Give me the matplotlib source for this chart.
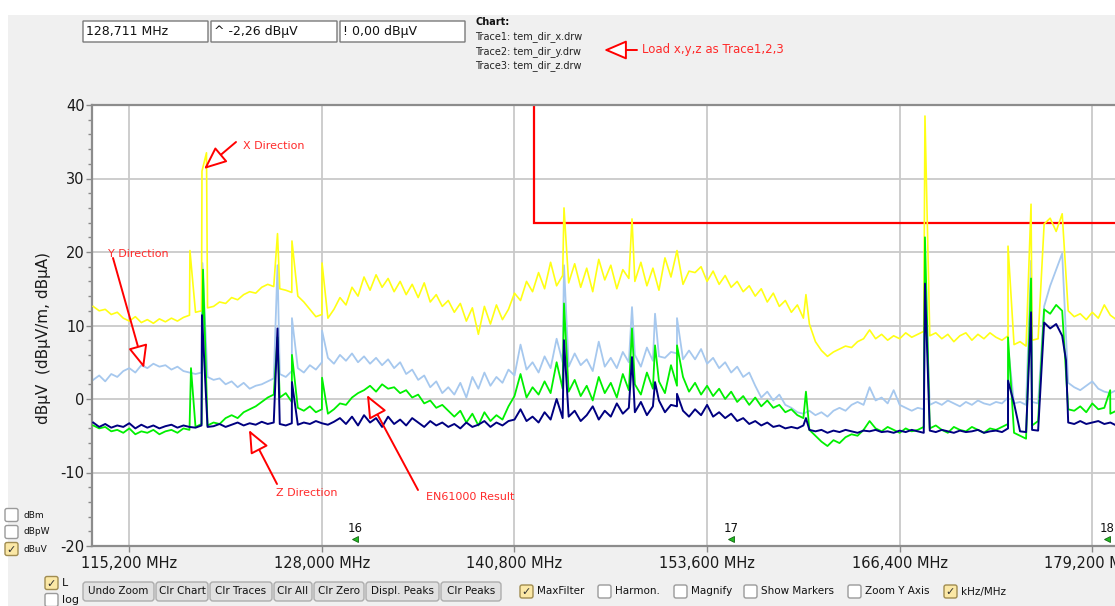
import numpy as np
import matplotlib
matplotlib.use("Agg")
import matplotlib.pyplot as plt
from matplotlib.patches import FancyBboxPatch, Rectangle, FancyArrowPatch
from matplotlib.transforms import IdentityTransform
from matplotlib.ticker import MultipleLocator, FixedLocator

# ---------------- data ----------------
F_START = 112800   # MHz (as labelled on the instrument axis)
F_STEP = 400

trace_x = [  # Trace1 tem_dir_x (yellow)
    12.6, 12.0, 12.2, 11.5, 11.8, 11.0, 10.6, 11.2, 10.4, 10.8,
    10.3, 10.9, 10.5, 11.0, 10.6, 11.1, 11.4, 11.8, 12.0, 12.4,
    12.6, 13.2, 13.0, 13.8, 13.5, 14.2, 14.6, 14.4, 15.2, 15.6,
    15.3, 15.0, 14.8, 14.5, 14.0, 13.2, 12.2, 11.2, 11.5, 11.0,
    12.2, 13.8, 12.8, 15.2, 14.0, 16.6, 14.8, 16.9, 15.2, 16.4,
    14.6, 16.0, 14.2, 15.6, 13.8, 15.8, 13.2, 14.2, 12.6, 13.4,
    11.8, 13.0, 10.6, 12.4, 8.8, 12.6, 10.2, 12.8, 10.8, 12.2,
    14.4, 13.4, 16.0, 14.6, 17.2, 15.0, 18.6, 15.4, 16.8, 15.8,
    18.4, 15.2, 17.8, 14.6, 19.0, 16.2, 18.2, 15.0, 17.6, 16.4,
    16.0, 18.6, 15.4, 17.8, 14.8, 19.2, 16.6, 20.2, 15.6, 17.4,
    17.2, 18.0, 16.0, 17.4, 15.6, 16.8, 15.2, 16.0, 14.6, 15.4,
    14.0, 15.0, 13.2, 14.4, 12.6, 13.4, 11.8, 12.8, 11.0, 10.2,
    7.8, 6.6, 5.8, 6.4, 6.8, 7.2, 7.0, 7.8, 8.2, 9.4,
    8.2, 8.8, 8.0, 8.6, 8.2, 9.0, 8.4, 8.8, 9.2, 8.6,
    9.0, 8.2, 8.8, 7.8, 8.6, 9.0, 8.0, 8.8, 8.2, 9.0,
    8.4, 8.0, 8.6, 7.4, 7.8, 7.2, 8.0, 8.2, 23.8, 24.6,
    22.8, 25.2, 12.0, 11.2, 11.6, 10.8, 11.8, 11.0, 12.8, 11.4,
    10.8,
]
trace_y = [  # Trace2 tem_dir_y (light blue)
    2.6, 3.2, 2.4, 3.4, 3.0, 3.8, 4.2, 3.6, 4.6, 4.2,
    4.8, 4.4, 4.6, 4.0, 4.4, 3.8, 3.6, 3.4, 3.6, 3.0,
    2.6, 2.8, 2.0, 2.4, 1.6, 2.2, 1.4, 1.8, 2.0, 2.4,
    2.8, 3.4, 3.0, 3.8, 4.2, 3.6, 4.6, 4.0, 5.0, 5.6,
    4.8, 6.0, 5.2, 6.2, 5.0, 5.8, 4.8, 5.6, 4.6, 5.4,
    4.2, 5.0, 3.4, 4.0, 2.6, 3.2, 1.6, 2.4, 0.8, 1.6,
    0.6, 2.2, 0.2, 3.0, 1.4, 3.6, 1.8, 3.0, 2.2, 4.0,
    3.2, 7.4, 4.0, 5.0, 3.6, 5.8, 4.2, 8.2, 5.0, 4.4,
    6.2, 4.6, 5.4, 3.8, 7.8, 4.4, 5.6, 4.2, 6.4, 5.0,
    6.0, 4.4, 7.0, 5.2, 5.8, 5.6, 6.4, 6.2, 5.4, 6.6,
    5.4, 6.8, 4.8, 5.6, 4.2, 5.0, 3.6, 4.4, 3.0, 3.6,
    1.8, 0.2, 1.0, -0.2, 0.6, -0.8, -1.2, -1.8, -2.0, -1.6,
    -2.2, -1.8, -2.4, -1.6, -1.2, -1.6, -0.8, -0.4, -0.8, 1.6,
    -0.2, 0.2, -0.6, 1.2, -0.8, -1.2, -1.6, -1.2, -1.4, -0.8,
    -0.4, -0.8, -0.2, -0.6, -1.0, -0.4, -0.8, -0.2, -0.6, -0.8,
    -0.4, -0.6, 0.2, -0.6, -0.4, -0.8, -0.4, -0.6, 12.6, 15.4,
    17.6, 19.8, 2.2, 1.6, 1.2, 1.8, 2.4, 1.4, 1.0, 0.8,
    1.2,
]
trace_z = [  # Trace3 tem_dir_z (green)
    -3.6, -4.0, -3.8, -4.4, -4.2, -4.6, -4.0, -4.8, -4.4, -4.6,
    -4.2, -4.8, -4.4, -4.2, -4.6, -4.0, -4.2, -3.8, -3.4, -3.6,
    -3.2, -3.4, -2.6, -2.2, -2.6, -1.8, -1.4, -1.0, -0.4, 0.2,
    0.6, 0.2, 0.8, -0.4, -1.2, -1.6, -1.0, -1.8, -1.4, -2.0,
    -1.4, -0.6, -0.8, 0.2, 0.8, 1.2, 1.8, 1.0, 2.0, 1.4,
    1.6, 0.8, 1.2, 0.2, 0.6, -0.6, -0.2, -1.2, -0.8, -1.6,
    -2.4, -1.6, -3.2, -2.0, -3.6, -1.8, -3.0, -2.2, -2.8, -1.0,
    0.4, 3.4, 0.2, 1.6, 0.6, 2.4, 0.8, 5.0, 1.4, 1.0,
    2.6, 0.4, 1.8, -0.2, 3.0, 0.8, 2.2, 0.2, 3.4, 1.2,
    2.0, 0.6, 3.6, 1.4, 2.4, 0.8, 4.6, 1.8, 3.0, 1.0,
    2.2, 0.6, 1.8, 0.4, 1.4, 0.0, 1.0, -0.4, 0.4, -0.8,
    0.2, -1.0, -0.2, -1.2, -0.8, -1.8, -1.4, -2.2, -2.6, -4.2,
    -5.0, -5.8, -6.4, -5.6, -6.0, -5.2, -4.8, -5.0, -4.2, -3.0,
    -4.0, -4.4, -3.8, -4.2, -4.6, -4.0, -4.4, -4.2, -3.8, -4.0,
    -3.6, -4.2, -4.6, -3.8, -4.2, -4.4, -3.8, -4.2, -4.6, -4.0,
    -4.2, -3.8, -3.4, -4.6, -5.0, -5.4, -3.6, -3.0, 12.2, 11.6,
    12.8, 12.0, -1.4, -1.6, -1.0, -1.8, -0.6, -1.4, -1.2, -2.0,
    -1.6,
]
trace_en = [  # EN61000 result (navy)
    -3.2, -3.8, -3.4, -3.9, -3.6, -3.8, -3.3, -4.0, -3.5, -3.9,
    -3.6, -4.0, -3.7, -3.5, -3.9, -3.6, -3.8, -3.9, -3.6, -3.8,
    -3.7, -3.4, -3.8, -3.5, -3.2, -3.6, -3.3, -3.5, -3.1, -3.4,
    -3.2, -3.4, -3.6, -3.3, -3.5, -3.2, -3.4, -3.0, -3.3, -3.5,
    -3.1, -2.6, -3.4, -2.4, -3.6, -2.2, -3.2, -2.6, -3.8, -2.4,
    -3.4, -2.8, -3.6, -2.6, -3.2, -3.8, -3.0, -3.6, -3.2, -3.8,
    -3.4, -4.0, -3.2, -3.8, -3.5, -3.0, -3.8, -3.2, -3.6, -3.0,
    -2.8, -1.4, -3.0, -2.4, -3.2, -1.8, -2.8, 0.0, -2.6, -2.4,
    -1.6, -3.0, -2.2, -1.0, -2.8, -1.6, -2.4, -0.6, -2.0, -1.2,
    -1.8, -0.4, -2.2, -1.0, -0.2, -1.8, -0.8, -1.0, -1.6, -2.4,
    -1.4, -2.2, -0.8, -2.4, -1.8, -2.6, -2.0, -3.0, -2.6, -3.4,
    -3.0, -3.6, -3.2, -3.8, -3.6, -4.0, -3.8, -4.0, -3.6, -4.2,
    -4.4, -4.2, -4.6, -4.3, -4.5, -4.2, -4.4, -4.6, -4.3, -4.4,
    -4.2, -4.5, -4.4, -4.6, -4.3, -4.5, -4.2, -4.4, -4.6, -4.3,
    -4.5, -4.2, -4.4, -4.6, -4.3, -4.5, -4.4, -4.2, -4.6, -4.4,
    -4.3, -4.5, -4.0, -0.6, -4.4, -4.5, -4.2, -4.3, 10.4, 9.6,
    10.2, 8.6, -3.2, -3.4, -3.0, -3.4, -3.2, -3.0, -3.4, -3.2,
    -3.6,
]

# narrow peaks (frequency, level) read separately
peaks_x_f = [119230, 120030, 120330, 125050, 126010, 128010, 144090, 148610, 160170, 168080, 173600, 175130]
peaks_x_v = [20.2, 31.0, 33.5, 22.5, 21.5, 18.5, 26.0, 24.5, 14.2, 38.5, 20.8, 26.5]
peaks_y_f = [120060, 125050, 126010, 128010, 144090, 148610, 150140, 151600, 168080, 173650, 175130]
peaks_y_v = [18.5, 18.2, 11.0, 9.3, 18.2, 12.5, 11.6, 11.0, 16.0, 6.2, 18.8]
peaks_z_f = [119300, 120100, 125050, 126010, 128010, 144090, 148610, 150140, 151600, 160170, 168080, 173600, 175130, 180390]
peaks_z_v = [4.2, 17.6, 8.4, 6.0, 2.9, 13.0, 9.6, 7.3, 7.3, 1.0, 22.0, 8.4, 16.4, 1.2]
peaks_en_f = [120030, 125050, 126010, 144090, 148610, 150140, 151600, 160170, 168080, 173600, 175130, 177450]
peaks_en_v = [11.4, 9.6, 2.3, 8.0, 5.7, 2.3, 0.7, -2.6, 15.7, 2.5, 11.8, 5.3]

limit_f = [142100, 142100, 181000]
limit_v = [41, 24, 24]

x_ticks = [115200, 128000, 140800, 153600, 166400, 179200]
y_ticks = [-20, -10, 0, 10, 20, 30, 40]
marker_f = [130200, 155200, 180200]
marker_lbl = ["16", "17", "18"]

# ---------------- figure ----------------
W, H = 1115, 606
fig = plt.figure(figsize=(W / 100, H / 100), dpi=100, facecolor="white")
PX = IdentityTransform()


def rect(x0, y0, x1, y1, fc, ec, r=0.0, lw=1.0, z=1):
    p = FancyBboxPatch((x0, H - y1), x1 - x0, y1 - y0,
                       boxstyle=f"round,pad=0,rounding_size={r}",
                       fc=fc, ec=ec, lw=lw, transform=PX, zorder=z)
    fig.add_artist(p)


def txt(x, y, s, **kw):
    kw.setdefault("va", "center")
    kw.setdefault("ha", "left")
    fig.text(x, H - y, s, transform=PX, **kw)


# grey window background
fig.add_artist(Rectangle((8, 0), W - 8, H - 15, fc="#f0f0f0", ec="none",
                         transform=PX, zorder=-10))

ax_left, ax_top, ax_bot = 92.3, 105.0, 546.0
ax = fig.add_axes([ax_left / W, (H - ax_bot) / H, (W - ax_left) / W,
                   (ax_bot - ax_top) / H])
ax.set_facecolor("white")


def merged(base, pf, pv):
    f = F_START + F_STEP * np.arange(len(base))
    ff = np.concatenate([f, np.asarray(pf, float)])
    vv = np.concatenate([np.asarray(base, float), np.asarray(pv, float)])
    o = np.argsort(ff, kind="stable")
    return ff[o], vv[o]


ax.plot(limit_f, limit_v, color="#ff0000", lw=1.6, zorder=1.5, solid_joinstyle="miter")
fy_, vy_ = merged(trace_y, peaks_y_f, peaks_y_v)
ax.plot(fy_, vy_, color="#a6c8ee", lw=1.3, zorder=2)
fx_, vx_ = merged(trace_x, peaks_x_f, peaks_x_v)
ax.plot(fx_, vx_, color="#ffff14", lw=1.2, zorder=3)
fz_, vz_ = merged(trace_z, peaks_z_f, peaks_z_v)
ax.plot(fz_, vz_, color="#00f000", lw=1.3, zorder=4)
fe_, ve_ = merged(trace_en, peaks_en_f, peaks_en_v)
ax.plot(fe_, ve_, color="#000080", lw=1.4, zorder=5)

ax.set_xlim(112741, 180710)
ax.set_ylim(-20, 40)
ax.set_xticks(x_ticks)
ax.set_xticklabels([f"{v:,} MHz" for v in x_ticks], fontsize=10.5, color="#1a1a1a")
ax.yaxis.set_major_locator(FixedLocator(y_ticks))
ax.yaxis.set_minor_locator(MultipleLocator(2))
ax.set_yticklabels([str(v) for v in y_ticks], fontsize=10.5, color="#1a1a1a")
ax.tick_params(axis="y", which="major", length=4.5, width=1, color="#8a8a8a", pad=1)
ax.tick_params(axis="y", which="minor", length=3, width=1, color="#8a8a8a")
ax.tick_params(axis="x", which="major", length=4, width=1, color="#8a8a8a", pad=3)
ax.grid(True, which="major", color="#c9c9c9", lw=1.3)
ax.set_axisbelow(True)
for s in ("left", "bottom", "top"):
    ax.spines[s].set_color("#8c8c8c")
    ax.spines[s].set_linewidth(1.6)
ax.spines["right"].set_visible(False)

# peak markers 16/17/18
for f, lbl in zip(marker_f, marker_lbl):
    ax.text(f, -17.6, lbl, ha="center", va="center", fontsize=8.5, color="#111111",
            clip_on=False, zorder=6)
    ax.plot([f], [-19.0], marker="<", ms=4.5, mfc="#22bb22", mec="#116611",
            mew=0.6, ls="none", clip_on=False, zorder=6)

# y label
txt(44, 338, "dBµV  (dBµV/m, dBµA)", rotation=90, ha="center", fontsize=11,
    color="#1a1a1a")

# ---------------- red annotations ----------------
RED = "#ff2a2a"
arrow_kw = dict(arrowstyle="-|>,head_length=1.4,head_width=0.6", fc="white",
                ec="#ff0000", lw=1.4, shrinkA=0, shrinkB=0, mutation_scale=10)


def red_arrow(x0, y0, x1, y1):
    fig.add_artist(FancyArrowPatch((x0, H - y0), (x1, H - y1), transform=PX,
                                   zorder=8, **arrow_kw))


red_arrow(236, 142, 204, 169)
txt(243, 146, "X Direction", fontsize=8, color=RED, zorder=8)
red_arrow(113, 258, 144, 368)
txt(108, 254, "Y Direction", fontsize=8, color=RED, zorder=8)
red_arrow(277, 484, 249, 430)
txt(276, 493, "Z Direction", fontsize=8, color=RED, zorder=8)
red_arrow(418, 490, 367, 395)
txt(426, 497, "EN61000 Result", fontsize=8, color=RED, zorder=8)
red_arrow(637, 50, 604, 50)
txt(642, 50, "Load x,y,z as Trace1,2,3", fontsize=8.5, color=RED, zorder=8)

# ---------------- header widgets ----------------
for (x0, x1), s in zip([(83, 208), (211, 337), (340, 465)],
                       ["128,711 MHz", "^ -2,26 dBµV", "! 0,00 dBµV"]):
    rect(x0, 21, x1, 42, "white", "#7a7a7a", lw=1)
    txt(x0 + 3, 31.5, s, fontsize=9, color="#111111")
txt(475, 22, "Chart:", fontsize=7, fontweight="bold", color="#111111")
for k, s in enumerate(["Trace1: tem_dir_x.drw", "Trace2: tem_dir_y.drw",
                       "Trace3: tem_dir_z.drw"]):
    txt(475, 37 + 14.5 * k, s, fontsize=7, color="#222222")

# ---------------- bottom widgets ----------------
buttons = [("Undo Zoom", 83, 154), ("Clr Chart", 156, 208), ("Clr Traces", 210, 272),
           ("Clr All", 274, 312), ("Clr Zero", 314, 364), ("Displ. Peaks", 366, 439),
           ("Clr Peaks", 441, 501)]
for s, x0, x1 in buttons:
    rect(x0, 582, x1, 601, "#e1e1e1", "#adadad", r=3)
    txt((x0 + x1) / 2, 591.5, s, ha="center", fontsize=7.5, color="#111111")


def checkbox(x, y, label, checked, fs=7.5, lx=None):
    rect(x, y - 6.5, x + 13, y + 6.5, "#fbe8a6" if checked else "white",
         "#a08c50" if checked else "#9a9a9a", r=2)
    if checked:
        txt(x + 6.5, y + 0.5, "✓", ha="center", fontsize=8, color="#333333")
    txt(x + 17 if lx is None else lx, y, label, fontsize=fs, color="#111111")


checkbox(520, 591.5, "MaxFilter", True)
checkbox(598, 591.5, "Harmon.", False)
checkbox(674, 591.5, "Magnify", False)
checkbox(744, 591.5, "Show Markers", False)
checkbox(848, 591.5, "Zoom Y Axis", False)
checkbox(944, 591.5, "kHz/MHz", True)
checkbox(5, 515, "dBm", False, fs=6.5, lx=23)
checkbox(5, 532, "dBpW", False, fs=6.5, lx=23)
checkbox(5, 549, "dBuV", True, fs=6.5, lx=23)
checkbox(45, 583, "L", True, fs=8, lx=62)
checkbox(45, 600, "log", False, fs=8, lx=62)

fig.savefig("out.png", dpi=100, facecolor="white")
